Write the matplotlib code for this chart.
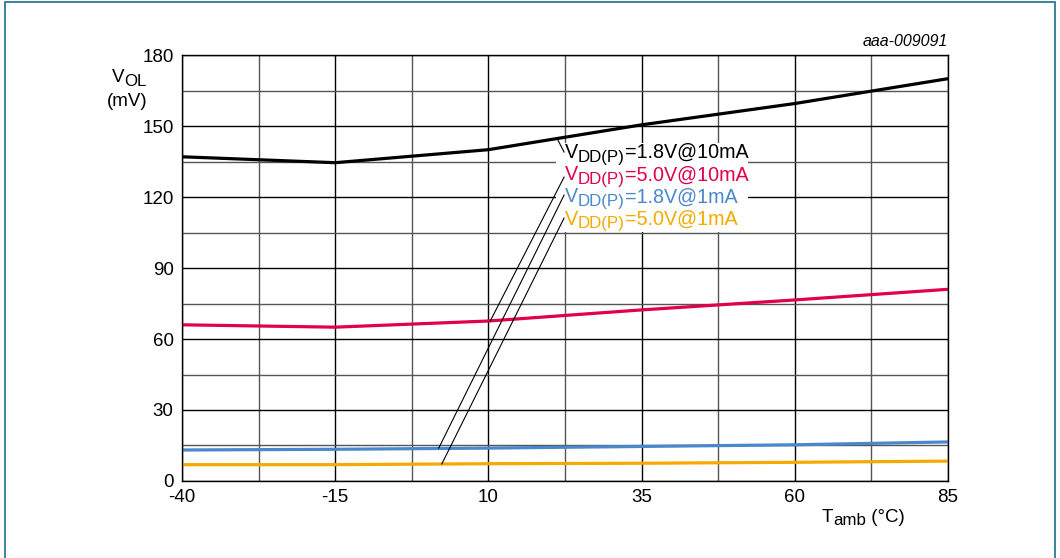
#!/usr/bin/python
"""V_OL versus ambient temperature chart (aaa-009091)."""

import matplotlib
matplotlib.use("Agg")
import matplotlib.pyplot as plt
import matplotlib.transforms as mtransforms
from matplotlib.patches import Rectangle

plt.rcParams['font.family'] = ['Liberation Sans', 'DejaVu Sans']
plt.rcParams['axes.unicode_minus'] = False

# data
# -----------------------------------------------------------------------------
temps = [-40, -15, 10, 35, 60, 85]
vol_18_10ma = [137, 134.5, 140, 150.5, 159.5, 170]
vol_50_10ma = [66, 65, 67.6, 72.3, 76.5, 81]
vol_18_1ma = [13.1, 13.4, 13.9, 14.6, 15.3, 16.5]
vol_50_1ma = [6.9, 6.9, 7.3, 7.5, 7.9, 8.4]

# label text split as (main, subscript, rest)
series_labels = [('V', 'DD(P)', '=1.8V@10mA'), ('V', 'DD(P)', '=5.0V@10mA'),
                 ('V', 'DD(P)', '=1.8V@1mA'), ('V', 'DD(P)', '=5.0V@1mA')]
series_colors = ['#000000', '#e0004d', '#4a88cc', '#f4aa00']

x_ticks = [-40, -15, 10, 35, 60, 85]
y_ticks = [0, 30, 60, 90, 120, 150, 180]

# where each leader line touches its curve, and where the label row sits
leader_curve = [(21.2, 144.8), (10.3, 67.6), (1.9, 13.9), (2.4, 7.2)]
leader_end_y = [139.0, 128.4, 120.8, 111.1]
label_x = 22.5
label_y = [136.4, 127.0, 117.7, 108.3]

FS = 13.5
FS_LAB = 14.2
FS_SUB = 12.2


# draws main text + lowered subscript + rest, one piece after another
# -----------------------------------------------------------------------------
def sub_text(ax, x, y, pieces, color, base, size=FS, sub=FS_SUB):
    fig = ax.figure
    renderer = fig.canvas.get_renderer()
    dx = 0.0
    sizes = [size, sub, size]
    dys = [0.0, -3.5, 0.0]
    for txt, fs, dy in zip(pieces, sizes, dys):
        tr = mtransforms.offset_copy(base, fig=fig, x=dx, y=dy, units='dots')
        t = ax.text(x, y, txt, transform=tr, fontsize=fs, color=color,
                    ha='left', va='baseline', zorder=7)
        dx += t.get_window_extent(renderer).width


# main function
# -----------------------------------------------------------------------------
def main():
    fig = plt.figure(figsize=(10.6, 5.58), dpi=100)
    ax = fig.add_axes([0.1717, 0.138, 0.7226, 0.7634])

    # grid: labelled lines black, in-between lines grey
    for t in range(11):
        xv = -40 + 12.5 * t
        ax.axvline(xv, color='black' if t % 2 == 0 else '#555555', lw=1.0, zorder=1)
    for t in range(13):
        yv = 15 * t
        ax.axhline(yv, color='black' if t % 2 == 0 else '#555555', lw=1.0, zorder=1)

    all_series = [vol_18_10ma, vol_50_10ma, vol_18_1ma, vol_50_1ma]
    for vals, col in zip(all_series, series_colors):
        ax.plot(temps, vals, color=col, lw=2.3, zorder=3, solid_joinstyle='round')

    ax.set_xlim(-40, 85)
    ax.set_ylim(0, 180)
    ax.set_xticks(x_ticks)
    ax.set_yticks(y_ticks)
    ax.tick_params(length=0, labelsize=FS, pad=6)
    for s in ax.spines.values():
        s.set_linewidth(1.0)
        s.set_zorder(4)

    # label box with leader lines
    ax.add_patch(Rectangle((21.0, 105.2), 31.4, 37.6, facecolor='white',
                           edgecolor='none', zorder=5))
    for (cx, cy), ey, ly, lab, col in zip(leader_curve, leader_end_y, label_y,
                                          series_labels, series_colors):
        ax.plot([cx, label_x - 0.15], [cy, ey], color='black', lw=0.8, zorder=6)
        sub_text(ax, label_x, ly, lab, col, ax.transData, size=FS_LAB)

    # axis titles
    sub_text(ax, -0.0914, 0.9366, ('V', 'OL', ''), 'black', ax.transAxes)
    ax.text(-0.0718, 0.880, '(mV)', transform=ax.transAxes, fontsize=FS,
            ha='center', va='baseline')
    sub_text(ax, 0.8355, -0.096, ('T', 'amb', ' (°C)'), 'black', ax.transAxes)
    ax.text(1.0, 1.015, 'aaa-009091', transform=ax.transAxes,
            fontsize=11.5, style='italic', ha='right', va='bottom')

    # teal frame around the figure (bottom edge lies outside)
    fig.add_artist(Rectangle((0.005, -0.05), 0.99, 1.046, transform=fig.transFigure,
                             facecolor='none', edgecolor='#1b6f86', lw=1.2))

    fig.savefig('out.png', dpi=100)


if __name__ == '__main__':
    main()
